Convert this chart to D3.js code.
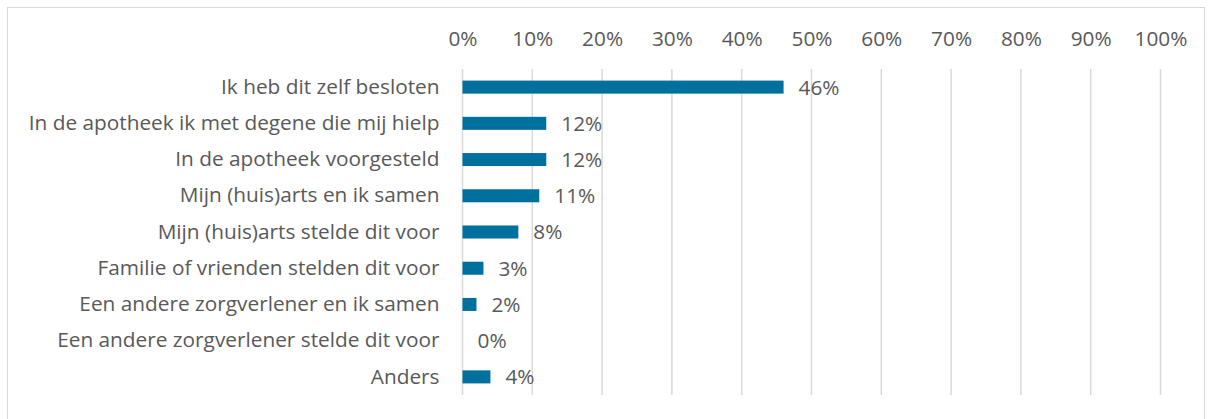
<!DOCTYPE html>
<html>
<head>
<meta charset="utf-8">
<script src="https://cdn.jsdelivr.net/npm/d3@7"></script>
<style>
  body { margin: 0; background: #fff; }
  text { font-family: "Open Sans", sans-serif; fill: #595959; }
</style>
</head>
<body>
<div id="chart-area"></div>
<script>
var categories = [
    "Ik heb dit zelf besloten",
    "In de apotheek ik met degene die mij hielp",
    "In de apotheek voorgesteld",
    "Mijn (huis)arts en ik samen",
    "Mijn (huis)arts stelde dit voor",
    "Familie of vrienden stelden dit voor",
    "Een andere zorgverlener en ik samen",
    "Een andere zorgverlener stelde dit voor",
    "Anders"
];
var values = [46, 12, 12, 11, 8, 3, 2, 0, 4];
var tickValues = [0, 10, 20, 30, 40, 50, 60, 70, 80, 90, 100];

var width = 1212, height = 419;
var margins = { top: 69, right: 51, bottom: 24, left: 462.5 };
var chartWidth = width - margins.left - margins.right,
    chartHeight = height - margins.top - margins.bottom;
var fontSize = "20.8px";

var svg = d3.select("#chart-area").append("svg")
    .attr("width", width)
    .attr("height", height);

svg.append("rect")
    .attr("x", 7.5).attr("y", 7.5)
    .attr("width", 1197).attr("height", 430)
    .attr("fill", "none")
    .attr("stroke", "#d9d9d9");

var canvas = svg.append("g")
    .attr("transform", `translate(${margins.left},${margins.top})`);

var xScale = d3.scaleLinear().domain([0, 100]).range([0, chartWidth - 0.5]);
var yScale = d3.scaleBand().domain(categories).range([0, chartHeight]).paddingInner(0.64).paddingOuter(0.32);

// gridlines
canvas.append("g").selectAll("line")
    .data(tickValues)
    .enter().append("line")
    .attr("x1", d => xScale(d)).attr("x2", d => xScale(d))
    .attr("y1", 0).attr("y2", chartHeight)
    .attr("stroke", "#d9d9d9")
    .attr("stroke-width", 1.5);

// top axis labels
var xAxis = canvas.append("g")
    .attr("transform", "translate(0,-23)")
    .call(d3.axisTop(xScale).tickValues(tickValues).tickFormat(d => d + "%").tickSize(0).tickPadding(0));
xAxis.select(".domain").remove();
xAxis.selectAll("text")
    .attr("font-size", fontSize)
    .style("font-family", "\"Open Sans\", sans-serif")
    .attr("fill", "#595959");

// category labels
var yAxis = canvas.append("g")
    .call(d3.axisLeft(yScale).tickSize(0).tickPadding(23));
yAxis.select(".domain").remove();
yAxis.selectAll("text")
    .attr("font-size", fontSize)
    .style("font-family", "\"Open Sans\", sans-serif")
    .attr("fill", "#595959");

// bars
canvas.selectAll("rect.bar")
    .data(values)
    .enter().append("rect")
    .attr("class", "bar")
    .attr("x", 0)
    .attr("y", (d, i) => yScale(categories[i]))
    .attr("width", d => xScale(d))
    .attr("height", yScale.bandwidth())
    .attr("fill", "#00719f");

// value labels
canvas.selectAll("text.value")
    .data(values)
    .enter().append("text")
    .attr("class", "value")
    .attr("x", d => xScale(d) + 15)
    .attr("y", (d, i) => yScale(categories[i]) + yScale.bandwidth() / 2)
    .attr("dy", "0.36em")
    .attr("font-size", fontSize)
    .text(d => d + "%");
</script>
</body>
</html>
